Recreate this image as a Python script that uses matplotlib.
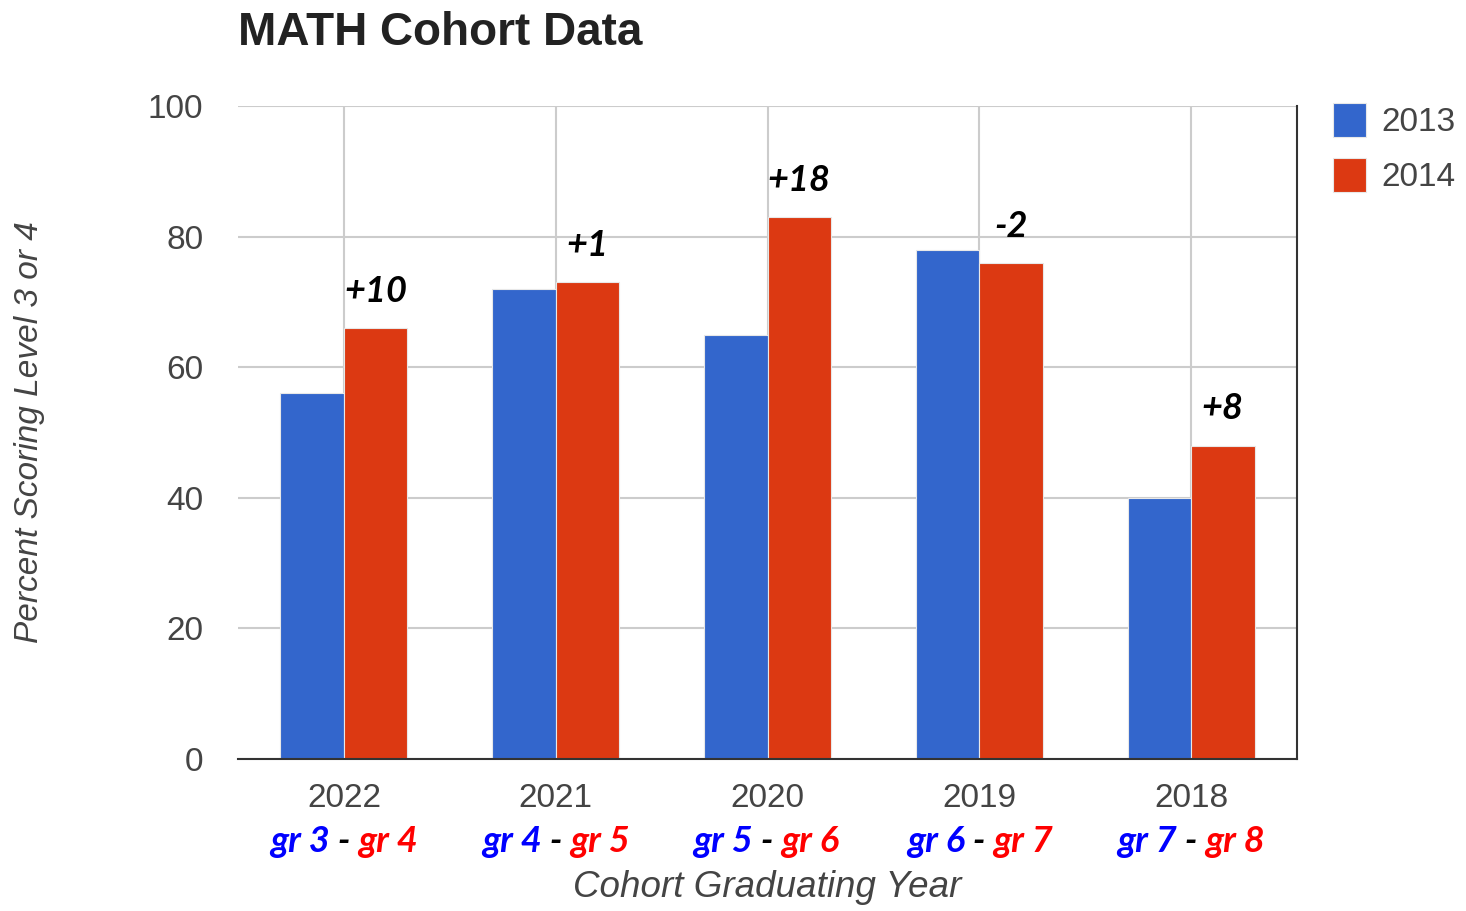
import matplotlib.pyplot as plt

years = ['2022', '2021', '2020', '2019', '2018']
grades_2013 = ['gr 3', 'gr 4', 'gr 5', 'gr 6', 'gr 7']
grades_2014 = ['gr 4', 'gr 5', 'gr 6', 'gr 7', 'gr 8']
score_2013 = [56, 72, 65, 78, 40]
score_2014 = [66, 73, 83, 76, 48]

blue = '#3366CC'
red = '#DC3912'
gray = '#444444'
lab_font = ['Lato', 'DejaVu Sans']

plt.rcParams['font.family'] = ['Liberation Sans', 'DejaVu Sans']

fig = plt.figure(figsize=(14.66, 9.11), dpi=100)
ax = fig.add_axes([238 / 1466, 1 - 759 / 911, (1297 - 238) / 1466, (759 - 106) / 911])

x = list(range(len(years)))
width = 0.3
ax.bar([i - width / 2 for i in x], score_2013, width=width, color=blue,
       edgecolor='#e8e8e8', linewidth=0.8, label='2013', zorder=3)
ax.bar([i + width / 2 for i in x], score_2014, width=width, color=red,
       edgecolor='#e8e8e8', linewidth=0.8, label='2014', zorder=3)

ax.set_xlim(-0.5, len(years) - 0.5)
ax.set_ylim(0, 100)
ax.set_yticks([0, 20, 40, 60, 80, 100])
ax.set_xticks(x)
ax.set_xticklabels(years)
ax.tick_params(axis='both', length=0, labelsize=24, labelcolor=gray)
ax.tick_params(axis='x', pad=17)
ax.tick_params(axis='y', pad=25)
ax.grid(True, color='#cccccc', linewidth=1.5, zorder=0)

for s in ['left', 'top']:
    ax.spines[s].set_visible(False)
for s in ['right', 'bottom']:
    ax.spines[s].set_color('#333333')
    ax.spines[s].set_linewidth(1.5)
    ax.spines[s].set_zorder(4)

# change labels above the 2014 bars
for i in x:
    d = score_2014[i] - score_2013[i]
    ax.text(i + width / 2, score_2014[i] + 4, '%+d' % d, ha='center', va='baseline',
            fontsize=26, fontweight='bold', fontstyle='italic', family=lab_font, zorder=5)

# grade labels under the years
for i in x:
    mid = ax.text(i, -0.142, ' - ', transform=ax.get_xaxis_transform(), ha='center',
                  va='baseline', fontsize=26, fontweight='bold', fontstyle='italic',
                  family=lab_font, color='black')
    ax.annotate(grades_2013[i], xy=(0, 0), xycoords=mid, ha='right', va='bottom',
                fontsize=26, fontweight='bold', fontstyle='italic', family=lab_font, color='#0000FF')
    ax.annotate(grades_2014[i], xy=(1, 0), xycoords=mid, ha='left', va='bottom',
                fontsize=26, fontweight='bold', fontstyle='italic', family=lab_font, color='#FF0000')

ax.set_ylabel('Percent Scoring Level 3 or 4', fontsize=24, fontstyle='italic', color=gray)
ax.yaxis.set_label_coords(-0.182, 0.5)
ax.set_xlabel('Cohort Graduating Year', fontsize=26.5, fontstyle='italic', color=gray)
ax.xaxis.set_label_coords(0.5, -0.170)

fig.text(238 / 1466, 1 - 45 / 911, 'MATH Cohort Data', fontsize=33, fontweight='bold',
         ha='left', va='baseline', color='#222222')

ax.legend(loc='upper left', bbox_to_anchor=(1.034, 1.005), frameon=False, fontsize=24,
          handlelength=1.0, handleheight=1.2, handletextpad=0.45, labelspacing=0.6,
          borderpad=0, borderaxespad=0, labelcolor=gray)

plt.savefig('out.png', dpi=100)
